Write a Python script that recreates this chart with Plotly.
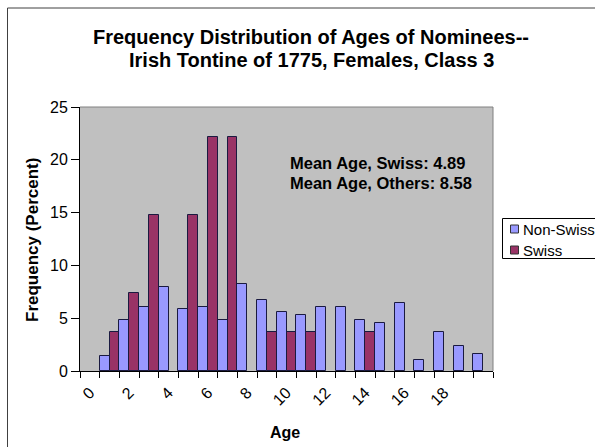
import plotly.graph_objects as go

# Age categories (0..20) and the percentage of nominees in each
ages = list(range(21))
non_swiss = [None, 1.4, 4.8, 6.1, 8.0, 5.9, 6.1, 4.8, 8.2, 6.7, 5.6,
             5.3, 6.1, 6.1, 4.8, 4.5, 6.4, 1.0, 3.7, 2.4, 1.6]
swiss = [None, 3.7, 7.4, 14.8, None, 14.8, 22.2, 22.2, None, 3.7, 3.7,
         3.7, None, None, 3.7, None, None, None, None, None, None]
tick_ages = list(range(0, 19, 2))
tick_labels = [str(a) for a in tick_ages]
series_names = ["Non-Swiss", "Swiss"]
series_colors = ["#9999FF", "#993366"]

title_lines = ["Frequency Distribution of Ages of Nominees--",
               "Irish Tontine of 1775, Females, Class 3"]
mean_lines = ["Mean Age, Swiss: 4.89", "Mean Age, Others: 8.58"]

W, H = 595, 447
L, R, T, B = 80, 493, 107, 371
pw, ph = R - L, B - T


def px(x):
    return (x - L) / pw


def py(y):
    return (B - y) / ph


font = "Liberation Sans, Arial, sans-serif"
edge = "#1a1a40"

fig = go.Figure()
for name, vals, color in zip(series_names, [non_swiss, swiss], series_colors):
    fig.add_trace(go.Bar(x=ages, y=vals, name=name, showlegend=False,
                         marker=dict(color=color, line=dict(color=edge, width=1))))

fig.update_layout(
    width=W, height=H,
    margin=dict(l=L, r=W - R, t=T, b=H - B, autoexpand=False),
    paper_bgcolor="white", plot_bgcolor="#C0C0C0",
    barmode="group", bargap=0, bargroupgap=0,
    font=dict(family=font, size=16, color="black"),
    xaxis=dict(range=[-0.5, 20.5], tickmode="array", tickvals=tick_ages,
               ticktext=tick_labels, tickangle=-45, ticks="",
               ticklabelstandoff=5,
               showgrid=False, zeroline=False,
               showline=True, linecolor="black", linewidth=1,
               minor=dict(ticks="outside", tick0=-0.5, dtick=1, ticklen=6,
                          tickcolor="black", showgrid=False)),
    yaxis=dict(range=[0, 25], dtick=5, ticks="outside", ticklen=8,
               tickcolor="black", showgrid=False, zeroline=False,
               showline=True, linecolor="black", linewidth=1),
)

# plot-area border on top and right
fig.add_shape(type="line", xref="paper", yref="paper", x0=0, x1=1, y0=1, y1=1,
              line=dict(color="#808080", width=1))
fig.add_shape(type="line", xref="paper", yref="paper", x0=1, x1=1, y0=0, y1=1,
              line=dict(color="#808080", width=1))
# outer chart frame
fig.add_shape(type="rect", xref="paper", yref="paper",
              x0=px(7.5), x1=px(620), y0=py(8), y1=py(470),
              line=dict(color="#404040", width=1), layer="below")

# legend box with colour keys
fig.add_shape(type="rect", xref="paper", yref="paper",
              x0=px(502.5), x1=px(640), y0=py(218.5), y1=py(258.5),
              fillcolor="white", line=dict(color="black", width=1))
for i, (name, color) in enumerate(zip(series_names, series_colors)):
    yc = 229 + 21 * i
    fig.add_shape(type="rect", xref="paper", yref="paper",
                  x0=px(510.5), x1=px(518.5), y0=py(yc - 4), y1=py(yc + 4),
                  fillcolor=color, line=dict(color="#333333", width=1))
    fig.add_annotation(text=name, xref="paper", yref="paper",
                       x=px(521), y=py(yc), xanchor="left", yanchor="middle",
                       showarrow=False, font=dict(size=15))

# chart title, one annotation per line
for line, yc in zip(title_lines, [37, 60]):
    fig.add_annotation(text="<b>" + line + "</b>",
                       xref="paper", yref="paper", x=px(311), y=py(yc),
                       xanchor="center", yanchor="middle", showarrow=False,
                       font=dict(size=20))

# axis titles
fig.add_annotation(text="<b>Age</b>", xref="paper", yref="paper",
                   x=px(285), y=py(432), xanchor="center", yanchor="middle",
                   showarrow=False, font=dict(size=16))
fig.add_annotation(text="<b>Frequency (Percent)</b>", xref="paper", yref="paper",
                   x=px(32), y=py(240), xanchor="center", yanchor="middle",
                   textangle=-90, showarrow=False, font=dict(size=17))

# mean ages
for line, yc in zip(mean_lines, [163, 183]):
    fig.add_annotation(text="<b>" + line + "</b>",
                       xref="paper", yref="paper", x=px(288), y=py(yc),
                       xanchor="left", yanchor="middle", showarrow=False,
                       font=dict(size=16.5))

fig.write_html("out.html")
